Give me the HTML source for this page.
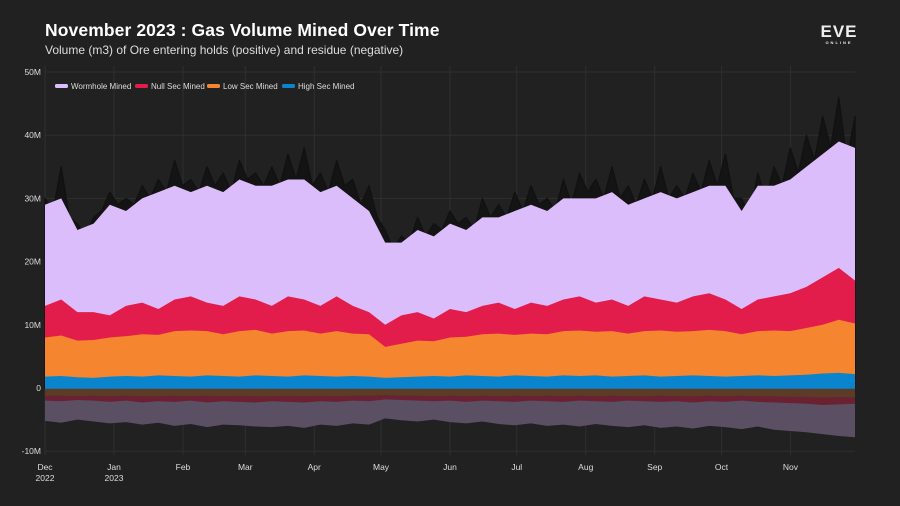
<!DOCTYPE html>
<html><head><meta charset="utf-8"><style>
html,body{margin:0;padding:0;background:#212121;}
#wrap{position:relative;width:900px;height:506px;background:#212121;font-family:"Liberation Sans",sans-serif;overflow:hidden}
#title{position:absolute;left:45px;top:20px;color:#fff;font-size:17.5px;font-weight:bold;letter-spacing:0.1px}
#sub{position:absolute;left:45px;top:43px;color:#ddd;font-size:12px}
#logo{position:absolute;left:814px;top:22px;color:#eee;font-weight:bold;font-size:17px;letter-spacing:1px;text-align:center;width:50px}
#logo small{display:block;font-size:4px;letter-spacing:2px;margin-top:-2px}
</style></head><body>
<div id="wrap">
<div id="title">November 2023 : Gas Volume Mined Over Time</div>
<div id="sub">Volume (m3) of Ore entering holds (positive) and residue (negative)</div>
<div id="logo">EVE<small>ONLINE</small></div>
<svg id="chart" width="900" height="506" style="position:absolute;left:0;top:0"></svg>
</div>
<script>
// Stacked tops (millions m3), index spans Dec 1 2022 .. Nov 30 2023
const wormholePeaks = [30,28,35,27,26,24,27,28,31,29,30,29,32,30,33,31,36,32,33,31,35,32,34,31,36,33,34,32,35,32,37,33,38,32,34,31,36,32,33,29,32,27,25,22,24,23,27,24,26,25,28,26,27,25,30,27,29,27,31,28,32,29,30,28,33,29,34,31,33,30,35,30,32,29,33,30,35,30,32,30,34,31,36,32,37,30,30,27,34,30,35,32,38,34,40,36,43,38,46,36,43];
const wormholeTop = [29,30,25,26,29,28,30,31,32,31,32,31,33,32,32,33,33,31,32,30,28,23,23,25,24,26,25,27,27,28,29,28,30,30,30,31,29,30,31,30,31,32,32,28,32,32,33,35,37,39,38];
const nullSecTop = [13,14,12,12,11.5,13,13.5,12.5,14,14.5,13.5,13,14.5,14,13,14.5,14,13,14.5,13,12,10,11.5,12,11,12.5,12,13,13.5,12.5,13.5,13,14,14.5,13.5,14,13,14.5,14,13.5,14.5,15,14,12.5,14,14.5,15,16,17.5,19,17];
const lowSecTop = [8,8.3,7.5,7.6,8,8.2,8.5,8.4,9,9.1,9,8.5,9,9.2,8.6,9,9.1,8.6,9,8.6,8.5,6.5,7,7.5,7.4,8,8.1,8.5,8.6,8.4,8.6,8.5,9,9.1,8.9,9,8.6,9,9.1,8.9,9,9.2,9,8.5,9,9.1,9,9.5,10,10.8,10.2];
const highSec = [1.8,1.9,1.7,1.6,1.8,1.9,1.8,2,1.9,1.8,2,1.9,1.8,2,1.9,1.8,2,1.9,1.8,1.9,1.8,1.6,1.7,1.8,1.9,1.8,2,1.9,1.8,2,1.9,1.8,2,1.9,2,1.8,1.9,2,1.8,1.9,2,1.9,1.8,1.9,2,1.9,2,2.1,2.3,2.4,2.2];
const lowSecNeg = [-1.2,-1.2,-1.3,-1.2,-1.3,-1.2,-1.3,-1.3,-1.2,-1.3,-1.2,-1.3,-1.2,-1.3,-1.3,-1.2,-1.3,-1.2,-1.3,-1.2,-1.2,-1.1,-1.2,-1.2,-1.3,-1.2,-1.3,-1.2,-1.3,-1.2,-1.3,-1.2,-1.3,-1.2,-1.3,-1.2,-1.3,-1.3,-1.2,-1.3,-1.3,-1.2,-1.3,-1.2,-1.3,-1.3,-1.4,-1.4,-1.5,-1.4,-1.5];
const nullSecNeg = [-2,-2.1,-1.9,-2,-2.2,-2,-2.3,-2.1,-2.2,-2,-2.3,-2.1,-2.2,-2.3,-2.1,-2.2,-2.3,-2.1,-2.2,-2,-2.1,-1.8,-1.9,-2,-2.1,-2,-2.2,-2,-2.1,-2.2,-2,-2.1,-2.2,-2,-2.1,-2.2,-2,-2.1,-2.2,-2.1,-2.3,-2.1,-2.2,-2,-2.2,-2.3,-2.4,-2.5,-2.7,-2.6,-2.5];
const wormholeNeg = [-5.2,-5.5,-5,-5.3,-5.6,-5.4,-5.8,-5.5,-6,-5.7,-6.2,-5.8,-5.9,-6.1,-6.2,-6,-6.3,-5.8,-6,-5.6,-5.8,-4.8,-5.1,-5.3,-5,-5.4,-5.6,-5.3,-5.7,-5.9,-5.6,-6,-5.8,-6.1,-5.7,-6,-6.2,-5.9,-6.3,-6.1,-6.4,-6,-6.2,-6.5,-6.1,-6.6,-6.8,-7,-7.3,-7.6,-7.8];
const yTicks = [50,40,30,20,10,0,-10];
const yTickLabels = ["50M","40M","30M","20M","10M","0","-10M"];
const monthDays = [0,31,62,90,121,151,182,212,243,274,304,335];
const monthLabels = ["Dec","Jan","Feb","Mar","Apr","May","Jun","Jul","Aug","Sep","Oct","Nov"];
const yearLabels = ["2022","2023","","","","","","","","","",""];

const NS="http://www.w3.org/2000/svg";
const svg=document.getElementById('chart');
const X0=45,X1=855,TOTAL_DAYS=364;
const xDay=d=>X0+(X1-X0)*d/TOTAL_DAYS;
const xIdx=(i,n)=>X0+(X1-X0)*i/(n-1);
const y=v=>388-v*6.32;
function mk(tag,attrs){const e=document.createElementNS(NS,tag);for(const k in attrs)e.setAttribute(k,attrs[k]);svg.appendChild(e);return e;}

yTicks.forEach((t,i)=>{
  const l=mk('line',{x1:X0,x2:X1,y1:y(t),y2:y(t),stroke:'#2f2f2f','stroke-width':1});
  
  
  const tx=mk('text',{x:41,y:y(t)+3,'text-anchor':'end',fill:'#ddd','font-size':'8.5px','font-family':'Liberation Sans, sans-serif'});
  tx.textContent=yTickLabels[i];
  
  
});
monthDays.forEach((d,i)=>{
  const l=mk('line',{x1:xDay(d),x2:xDay(d),y1:66,y2:455,stroke:'#2f2f2f','stroke-width':1});
  
  
  const tx=mk('text',{x:xDay(d),y:470,'text-anchor':'middle',fill:'#ddd','font-size':'8.5px','font-family':'Liberation Sans, sans-serif'});
  tx.textContent=monthLabels[i];
  
  
  if(yearLabels[i]){
    const ty=mk('text',{x:xDay(d),y:481,'text-anchor':'middle',fill:'#ddd','font-size':'8.5px','font-family':'Liberation Sans, sans-serif'});
    ty.textContent=yearLabels[i];
    
    
  }
});

function area(top,bottom,fill,name,stroke){
  let d='';
  top.forEach((v,i)=>{d+=(i?'L':'M')+xIdx(i,top.length).toFixed(2)+','+y(v).toFixed(2);});
  for(let i=bottom.length-1;i>=0;i--){d+='L'+xIdx(i,bottom.length).toFixed(2)+','+y(bottom[i]).toFixed(2);}
  d+='Z';
  const p=mk('path',{d:d,fill:fill});
  if(stroke){p.setAttribute('stroke',stroke);p.setAttribute('stroke-width','1.3');p.setAttribute('stroke-linejoin','round');}
  
  
}
const zeros=highSec.map(()=>0);
area(wormholePeaks,[0,0],'#141414','area-wormhole-daily-peaks','#111');
area(wormholeTop,zeros,'#dcbdfb','area-wormhole-mined');
area(nullSecTop,zeros,'#e31d4b','area-null-sec-mined');
area(lowSecTop,zeros,'#f5852f','area-low-sec-mined');
area(highSec,zeros,'#0a84cc','area-high-sec-mined');
area(zeros,wormholeNeg,'#5b4f63','area-wormhole-residue');
area(zeros,nullSecNeg,'#6a2233','area-null-sec-residue');
area(zeros,lowSecNeg,'#5c3c27','area-low-sec-residue');
const zl=mk('line',{x1:X0,x2:X1,y1:y(0),y2:y(0),stroke:'#0a84cc','stroke-width':1.5});



const legend=[['Wormhole Mined','#dcbdfb',55],['Null Sec Mined','#e31d4b',135],['Low Sec Mined','#f5852f',207],['High Sec Mined','#0a84cc',282]];
legend.forEach(([t,c,x])=>{
  const r=mk('rect',{x:x,y:84,width:13,height:4,rx:1.5,fill:c});
  
  
  const tx=mk('text',{x:x+16,y:89,fill:'#ddd','font-size':'8px','font-family':'Liberation Sans, sans-serif'});
  tx.textContent=t;
  
  
});
</script>
</body></html>
